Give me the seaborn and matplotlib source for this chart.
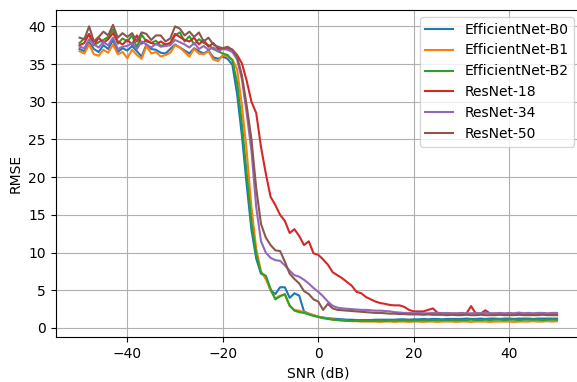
import numpy as np
import pandas as pd
import matplotlib
matplotlib.use("Agg")
import matplotlib.pyplot as plt
import seaborn as sns

snr = list(range(-50, 51))

models = ["EfficientNet-B0", "EfficientNet-B1", "EfficientNet-B2",
          "ResNet-18", "ResNet-34", "ResNet-50"]

effnet_b0 = [
    37.0, 36.7, 37.9, 37.0, 36.6, 37.5, 37.0, 38.2, 36.6, 37.1,
    36.8, 37.4, 36.7, 36.0, 37.6, 37.0, 36.9, 36.5, 36.4, 37.0,
    37.6, 37.2, 36.8, 36.4, 37.1, 36.7, 36.4, 36.8, 35.9, 35.7,
    36.0, 35.7, 34.9, 31.0, 25.5, 19.0, 13.0, 9.2, 7.2, 6.9,
    5.0, 4.5, 5.4, 5.4, 4.0, 4.6, 4.3, 2.2, 1.9, 1.7,
    1.5, 1.4, 1.3, 1.25, 1.2, 1.15, 1.1, 1.1, 1.05, 1.05,
    1.05, 1.05, 1.1, 1.1, 1.1, 1.1, 1.1, 1.15, 1.15, 1.1,
    1.15, 1.15, 1.2, 1.15, 1.2, 1.2, 1.15, 1.2, 1.2, 1.2,
    1.2, 1.25, 1.2, 1.2, 1.25, 1.2, 1.25, 1.25, 1.2, 1.25,
    1.25, 1.2, 1.25, 1.25, 1.25, 1.2, 1.25, 1.25, 1.25, 1.25,
    1.25,
]
effnet_b1 = [
    36.7, 36.4, 37.6, 36.3, 36.1, 36.9, 36.5, 37.6, 36.3, 36.6,
    35.8, 36.9, 36.2, 35.7, 37.4, 36.4, 36.6, 36.0, 36.2, 36.5,
    37.5, 37.2, 36.6, 36.0, 37.0, 36.4, 36.3, 36.7, 35.6, 35.4,
    36.2, 36.0, 35.6, 34.3, 29.5, 23.5, 16.0, 10.5, 7.5, 6.5,
    5.0, 3.9, 4.3, 4.4, 2.9, 2.4, 2.3, 2.1, 1.9, 1.7,
    1.5, 1.35, 1.25, 1.15, 1.05, 1.0, 0.95, 0.9, 0.9, 0.85,
    0.85, 0.85, 0.85, 0.8, 0.85, 0.85, 0.8, 0.85, 0.85, 0.8,
    0.85, 0.85, 0.8, 0.85, 0.85, 0.8, 0.85, 0.85, 0.85, 0.8,
    0.85, 0.85, 0.8, 0.85, 0.85, 0.85, 0.8, 0.85, 0.85, 0.85,
    0.85, 0.8, 0.85, 0.85, 0.85, 0.9, 0.85, 0.85, 0.9, 0.85,
    0.9,
]
effnet_b2 = [
    37.8, 38.4, 38.9, 37.5, 37.9, 38.2, 38.6, 39.6, 37.7, 38.4,
    38.0, 38.8, 37.2, 38.9, 38.0, 37.8, 38.1, 37.4, 37.6, 37.7,
    38.8, 39.2, 38.0, 38.7, 37.6, 38.3, 37.8, 37.5, 37.0, 36.7,
    36.4, 36.2, 35.5, 32.5, 27.0, 20.5, 14.0, 9.8, 7.3, 6.9,
    5.2, 3.8, 4.2, 4.5, 3.0, 2.3, 2.1, 2.0, 1.8, 1.6,
    1.45, 1.3, 1.2, 1.1, 1.05, 1.0, 0.95, 0.95, 0.95, 0.95,
    0.95, 0.95, 0.95, 1.0, 0.95, 1.0, 1.0, 1.0, 1.0, 1.0,
    1.0, 1.0, 1.05, 1.0, 1.05, 1.05, 1.05, 1.05, 1.05, 1.05,
    1.05, 1.05, 1.1, 1.05, 1.05, 1.1, 1.05, 1.1, 1.1, 1.05,
    1.1, 1.1, 1.05, 1.1, 1.1, 1.1, 1.1, 1.05, 1.1, 1.1,
    1.1,
]
resnet_18 = [
    37.5, 37.8, 39.0, 37.5, 38.5, 37.8, 38.3, 39.1, 38.0, 37.6,
    38.2, 37.6, 38.8, 37.7, 38.2, 37.8, 37.6, 38.0, 37.6, 37.8,
    39.0, 38.6, 38.2, 38.0, 38.5, 37.6, 38.2, 37.3, 37.8, 37.0,
    37.0, 37.1, 36.9, 36.2, 35.1, 32.8, 30.0, 28.5, 24.0, 20.5,
    17.4, 16.3, 15.0, 14.2, 12.6, 13.1, 12.2, 11.0, 11.5, 9.9,
    9.7, 9.1, 8.4, 7.4, 7.0, 6.6, 6.1, 5.6, 4.8, 4.6,
    4.1, 3.8, 3.5, 3.3, 3.2, 3.05, 3.0, 3.0, 2.8, 2.4,
    2.2, 2.2, 2.2, 2.4, 2.6, 2.0, 1.95, 1.9, 1.9, 1.9,
    1.85, 1.9, 2.9, 1.9, 1.9, 2.35, 1.9, 1.9, 1.85, 1.85,
    1.9, 1.85, 1.85, 1.9, 1.85, 1.85, 1.9, 1.85, 1.85, 1.85,
    1.85,
]
resnet_34 = [
    37.3, 37.1, 38.3, 37.6, 37.2, 37.9, 37.5, 38.5, 37.0, 37.3,
    37.4, 37.8, 37.0, 38.0, 37.6, 37.2, 37.7, 37.3, 37.4, 37.5,
    38.2, 37.9, 37.6, 37.2, 37.8, 37.0, 37.4, 36.9, 37.2, 36.7,
    37.0, 36.9, 36.6, 35.6, 33.0, 28.5, 23.5, 16.0, 11.5, 10.0,
    9.3, 9.0, 8.9, 8.3, 7.6, 7.0, 6.8, 6.4, 5.9, 5.3,
    4.8, 4.2, 3.5, 2.95, 2.7, 2.6, 2.55, 2.5, 2.45, 2.4,
    2.4, 2.35, 2.3, 2.3, 2.25, 2.2, 2.1, 2.05, 2.0, 2.0,
    1.95, 2.0, 1.95, 1.95, 2.0, 1.95, 1.95, 2.0, 1.95, 1.95,
    2.0, 1.95, 1.95, 2.0, 1.95, 2.0, 1.95, 1.95, 2.0, 1.95,
    2.0, 1.95, 2.05, 1.95, 2.0, 1.95, 2.0, 2.0, 1.95, 2.0,
    2.0,
]
resnet_50 = [
    38.5, 38.3, 40.0, 38.0, 38.6, 39.3, 38.8, 40.2, 38.5, 39.1,
    38.6, 39.1, 38.0, 39.2, 39.0, 38.2, 38.8, 38.8, 38.0, 38.4,
    40.0, 39.7, 38.8, 39.3, 38.6, 39.2, 38.0, 38.5, 37.6, 37.3,
    37.1, 37.3, 36.9, 36.0, 33.5, 29.5, 25.0, 18.5, 13.8, 12.0,
    11.0, 10.3, 10.2, 8.8, 7.2, 6.5, 5.9, 4.9, 4.5, 3.8,
    3.5, 2.4, 3.2, 2.6, 2.4, 2.35, 2.3, 2.25, 2.2, 2.15,
    2.1, 2.05, 2.0, 2.0, 1.95, 1.9, 1.9, 1.85, 1.85, 1.8,
    1.8, 1.8, 1.75, 1.8, 1.75, 1.75, 1.75, 1.7, 1.75, 1.7,
    1.7, 1.75, 1.7, 1.7, 1.75, 1.7, 1.7, 1.7, 1.75, 1.7,
    1.7, 1.7, 1.75, 1.7, 1.7, 1.7, 1.7, 1.75, 1.7, 1.7,
    1.7,
]

series = [effnet_b0, effnet_b1, effnet_b2, resnet_18, resnet_34, resnet_50]
df = pd.concat(
    [pd.DataFrame({"SNR (dB)": snr, "RMSE": vals, "Model": name})
     for name, vals in zip(models, series)],
    ignore_index=True,
)

# the original axes run a few pixels past the right edge of the image
fig = plt.figure(figsize=(5.77, 3.82), dpi=100)
ax = fig.add_axes([0.0965, 0.1183, 0.9103, 0.8555])
sns.lineplot(data=df, x="SNR (dB)", y="RMSE", hue="Model", hue_order=models,
             palette=sns.color_palette("tab10", 6), linewidth=1.5, ax=ax)
ax.grid(True)
sns.move_legend(ax, "upper right", title=None)
fig.savefig("out.png", dpi=100)
plt.close(fig)
